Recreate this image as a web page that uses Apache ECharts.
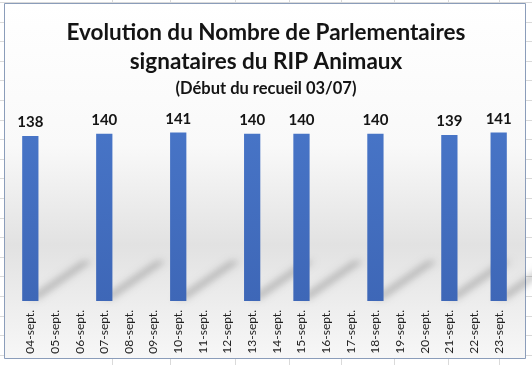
<!DOCTYPE html>
<html><head><meta charset="utf-8">
<script src="https://cdn.jsdelivr.net/npm/echarts@6/dist/echarts.min.js"></script>
<style>html,body{margin:0;padding:0;background:#fff}#c{width:532px;height:365px}</style>
</head><body><div id="c"></div>
<script>
const categories = ['04-sept.','05-sept.','06-sept.','07-sept.','08-sept.','09-sept.','10-sept.','11-sept.','12-sept.','13-sept.','14-sept.','15-sept.','16-sept.','17-sept.','18-sept.','19-sept.','20-sept.','21-sept.','22-sept.','23-sept.'];
const values = [138,null,null,140,null,null,141,null,null,140,null,140,null,null,140,null,null,139,null,141];
const titleLines = ['Evolution du Nombre de Parlementaires','signataires du RIP Animaux'];
const subtitle = '(Début du recueil 03/07)';

const FONT = 'Lato';
const chart = echarts.init(document.getElementById('c'), null, {renderer:'canvas'});

// Excel sheet grid lines visible around the chart frame
const bg = [];
const vx = [112,170,235,289,341,394,448,499];
for (let y = 2; y < 365; y += 19.6) bg.push({type:'line', shape:{x1:0,y1:Math.round(y)+0.5,x2:532,y2:Math.round(y)+0.5}, style:{stroke:'#dadada',lineWidth:1}, z:-10, silent:true});
vx.forEach(x => bg.push({type:'line', shape:{x1:x+0.5,y1:0,x2:x+0.5,y2:365}, style:{stroke:'#dadada',lineWidth:1}, z:-10, silent:true}));
bg.push({type:'rect', shape:{x:4.5,y:3.5,width:521,height:355}, z:-5, silent:true,
  style:{stroke:'#8b9dba', lineWidth:1,
    fill:new echarts.graphic.LinearGradient(0,0,0,1,[
      {offset:0,color:'#ffffff'},{offset:0.4,color:'#f9f9f9'},{offset:0.68,color:'#e2e2e2'},{offset:0.86,color:'#eeeeee'},{offset:1,color:'#f7f7f7'}])}});

const shadowData = values.map((v,i)=> v==null? null : [i, v]).filter(d=>d);

chart.setOption({
  animation:false,
  graphic: bg,
  title:[
    {text: titleLines.join('\n'), left:'center', top:13,
     textStyle:{fontFamily:FONT, fontWeight:'bold', fontSize:22.5, lineHeight:29, color:'#141414'}},
    {text: subtitle, left:'center', top:75,
     textStyle:{fontFamily:FONT, fontWeight:'bold', fontSize:16.5, lineHeight:17, color:'#141414'}}
  ],
  grid:{left:18, right:21, top:62, bottom:64},
  xAxis:{type:'category', data:categories,
    axisLine:{show:false}, axisTick:{show:false},
    axisLabel:{rotate:90, interval:0, margin:9, fontFamily:FONT, fontSize:12, color:'#1e1e1e'}},
  yAxis:{type:'value', min:0, max:200, show:false, splitLine:{show:false}},
  series:[
    {type:'custom', z:1, silent:true, clip:false, data: shadowData,
     renderItem:function(params, api){
       const p = api.coord([api.value(0), 0]);
       const w = api.size([1,0])[0]*0.66;
       const x0 = p[0]-w/2+4, x1 = p[0]+w/2, y = p[1]-2;
       const dx = 54, dy = 38, off = 2000;
       return {type:'polygon', shape:{points:[[x0-off,y],[x1-off,y],[x1+dx-off,y-dy],[x0+dx+2-off,y-dy]]},
         style:{fill:'rgba(0,0,0,1)', shadowBlur:7, shadowColor:'rgba(0,0,0,0.22)', shadowOffsetX:off, shadowOffsetY:0}};
     }},
    {type:'bar', data:values, barWidth:'66%', z:2,
     itemStyle:{color:new echarts.graphic.LinearGradient(0,0,0,1,[{offset:0,color:'#4774c6'},{offset:1,color:'#3e67b7'}])},
     label:{show:true, position:'top', distance:6, fontFamily:FONT, fontWeight:'bold', fontSize:15, color:'#141414'}}
  ]
});
</script></body></html>
